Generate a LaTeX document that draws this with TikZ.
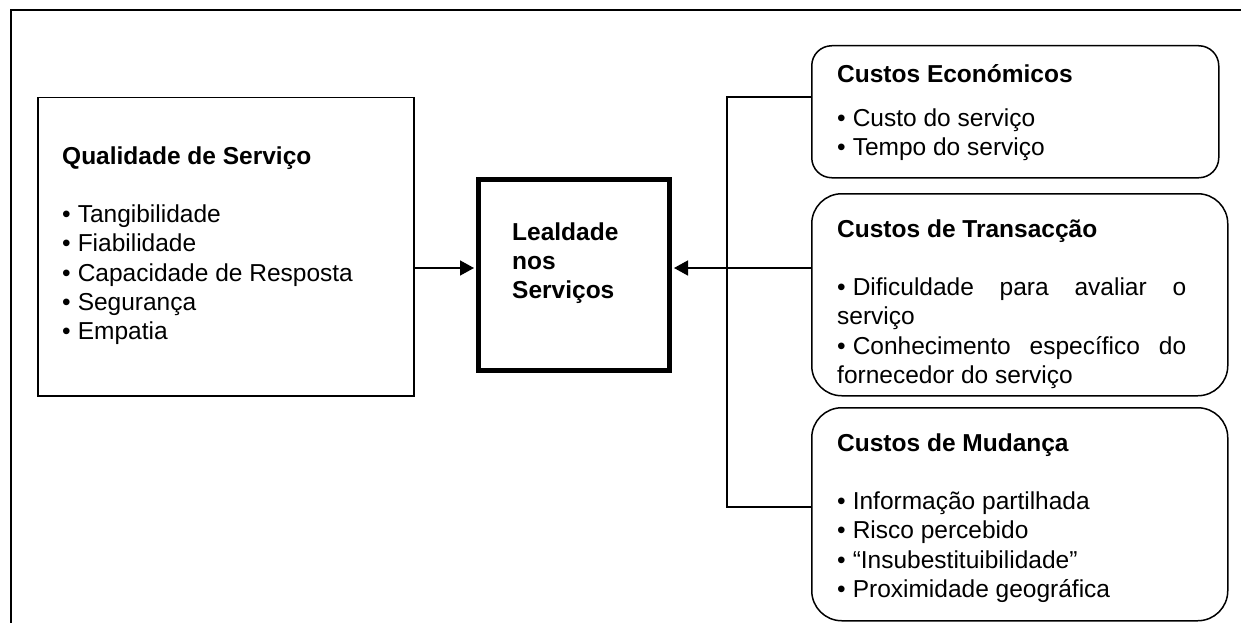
\documentclass[tikz,border=0pt]{standalone}
\usepackage{fontspec}
\setmainfont{Liberation Sans}
\usetikzlibrary{arrows.meta}
% bullet followed by the gap before the item text
\newcommand{\itm}{\textbullet\hspace{7pt}}
\begin{document}
\begin{tikzpicture}[x=1pt,y=-1pt,
  every node/.style={font=\fontsize{24.5}{29.3}\selectfont},
  frameline/.style={line width=2.2pt},
  plainbox/.style={draw, line width=1.5pt, inner sep=0pt, anchor=north west},
  heavybox/.style={draw, line width=5pt, inner sep=0pt, anchor=north west},
  roundbox/.style={draw, line width=1.5pt, inner sep=0pt, anchor=north west, rounded corners=#1},
  % a multi-line node's base is the baseline of its last line
  txt/.style={anchor=base west, align=left, inner sep=0pt},
  link/.style={line width=1.5pt},
  arr/.style={line width=1.5pt, -{Triangle[length=14pt,width=15pt]}, shorten >=2pt}
]
\useasboundingbox (0,0) rectangle (1241,623);

% open frame: top and left edges only
\draw[frameline] (11,623) -- (11,10) -- (1241,10);

% boxes
\node[plainbox, minimum width=376pt, minimum height=298pt] (qual) at (37,97) {};
\node[heavybox, minimum width=191pt, minimum height=191pt] (leal) at (476,177) {};
\node[roundbox=20pt, minimum width=407pt, minimum height=132pt] (econ) at (811,45) {};
\node[roundbox=30pt, minimum width=416pt, minimum height=202pt] (trans) at (811,193) {};
\node[roundbox=30pt, minimum width=416pt, minimum height=213pt] (mud) at (811,407) {};

% texts (positions give the baseline of the last line)
\node[txt] (qualtxt) at (62,339.8) {\textbf{Qualidade de Serviço}\\[29.3pt]
  \itm Tangibilidade\\ \itm Fiabilidade\\ \itm Capacidade de Resposta\\
  \itm Segurança\\ \itm Empatia};
\node[txt] (lealtxt) at (512,298.6) {\textbf{Lealdade}\\ \textbf{nos}\\ \textbf{Serviços}};
\node[txt] (econtxt) at (837,155.3) {\textbf{Custos Económicos}\\[14.7pt]
  \itm Custo do serviço\\ \itm Tempo do serviço};
\node[txt] (transtxt) at (837,383.5) {\textbf{Custos de Transacção}\\[29.3pt]
  \makebox[349pt][s]{\itm Dificuldade para avaliar o}\\ serviço\\
  \makebox[349pt][s]{\itm Conhecimento específico do}\\ fornecedor do serviço};
\node[txt] (mudtxt) at (837,597.5) {\textbf{Custos de Mudança}\\[29.3pt]
  \itm Informação partilhada\\ \itm Risco percebido\\
  \itm “Insubestituibilidade”\\ \itm Proximidade geográfica};

% connectors
\coordinate (junc) at (727,268);
\coordinate (bt) at (727,97);
\coordinate (bb) at (727,507);
\draw[arr] (qual.east |- junc) -- (leal.west |- junc);
\draw[arr] (trans.west |- junc) -- (leal.east |- junc);
\draw[link] (econ.west |- bt) -- (bt) -- (bb) -- (mud.west |- bb);
\end{tikzpicture}
\end{document}
